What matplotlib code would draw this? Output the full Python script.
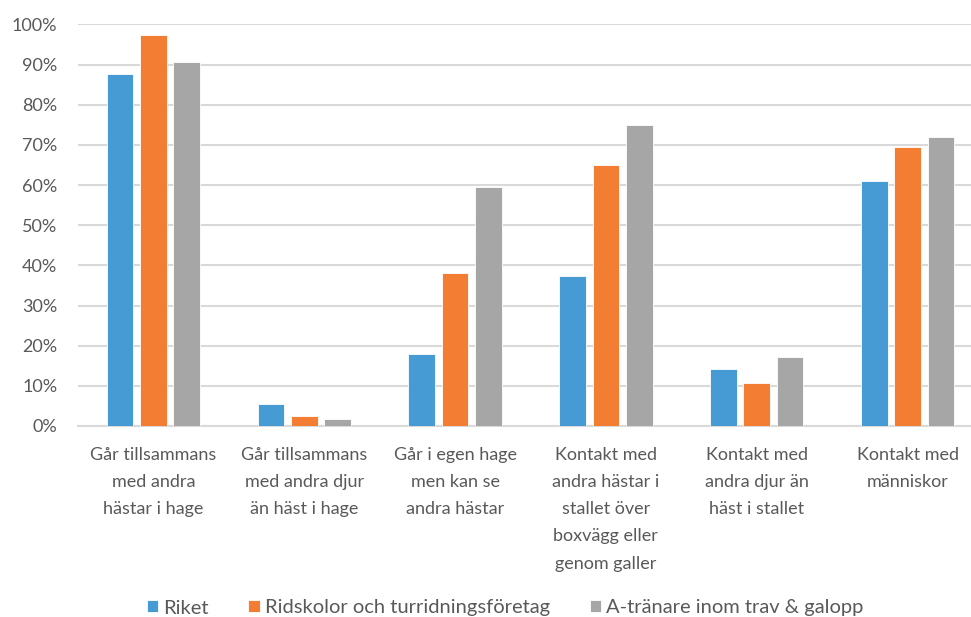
import matplotlib.pyplot as plt
import numpy as np

plt.rcParams['font.family'] = ['Lato', 'DejaVu Sans']

categories = [
    "Går tillsammans\nmed andra\nhästar i hage",
    "Går tillsammans\nmed andra djur\nän häst i hage",
    "Går i egen hage\nmen kan se\nandra hästar",
    "Kontakt med\nandra hästar i\nstallet över\nboxvägg eller\ngenom galler",
    "Kontakt med\nandra djur än\nhäst i stallet",
    "Kontakt med\nmänniskor",
]
series_names = ["Riket", "Ridskolor och turridningsföretag", "A-tränare inom trav & galopp"]
riket = [0.877, 0.055, 0.179, 0.373, 0.143, 0.609]
ridskolor = [0.975, 0.025, 0.380, 0.650, 0.107, 0.696]
tranare = [0.907, 0.017, 0.596, 0.749, 0.172, 0.719]
colors = ["#469BD4", "#F37D32", "#A6A6A6"]

fig = plt.figure(figsize=(9.71, 6.17), dpi=100)
ax = fig.add_axes([78 / 971, 191 / 617, 905 / 971, 401.5 / 617])

x = np.arange(len(categories))
pitch = 0.221
width = 0.177
for i, (vals, name) in enumerate(zip([riket, ridskolor, tranare], series_names)):
    ax.bar(x + (i - 1) * pitch, vals, width, color=colors[i], label=name,
           edgecolor="white", linewidth=0.6, zorder=3)

ax.set_xlim(-0.5, len(categories) - 0.5)
ax.set_ylim(0, 1)
ax.set_yticks(np.arange(0, 1.01, 0.1))
ax.set_yticklabels([f"{int(round(v * 100))}%" for v in np.arange(0, 1.01, 0.1)])
ax.set_xticks(x)
ax.set_xticklabels(categories, linespacing=1.86, va="top")
ax.tick_params(axis="both", length=0, labelsize=13, colors="#595959")
ax.tick_params(axis="x", pad=15)
ax.tick_params(axis="y", pad=15)
ax.yaxis.grid(True, color="#D9D9D9", linewidth=1.5, zorder=0)
for s in ["top", "right", "left"]:
    ax.spines[s].set_visible(False)
ax.spines["bottom"].set_color("#D9D9D9")
ax.spines["bottom"].set_linewidth(1.5)

fig.legend(loc="center", bbox_to_anchor=(505 / 971, 1 - 608 / 617), ncol=3,
           frameon=False, fontsize=14.5, labelcolor="#595959", handlelength=0.55,
           handleheight=0.55, handletextpad=0.25, columnspacing=2.0)

fig.savefig("out.png", dpi=100)
